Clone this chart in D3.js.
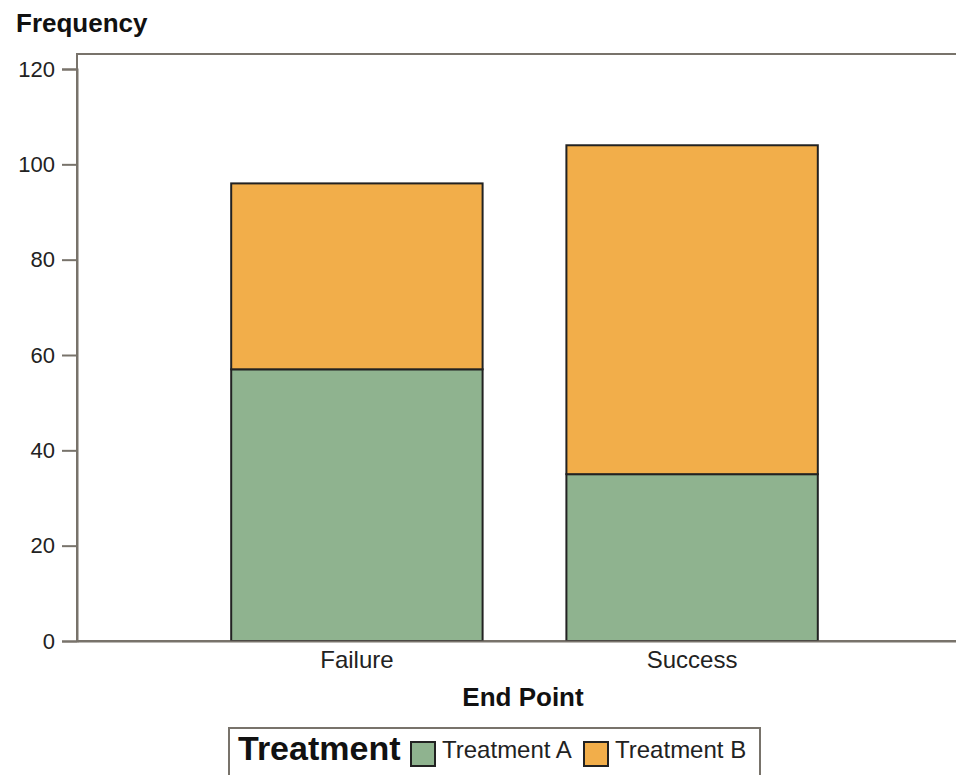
<!DOCTYPE html>
<html>
<head>
<meta charset="utf-8">
<script src="https://cdn.jsdelivr.net/npm/d3@7"></script>
<style>
  body { margin: 0; background: #fff; }
  svg { display: block; font-family: "Liberation Sans", Arial, sans-serif; }
</style>
</head>
<body>
<svg></svg>
<script>
var categories = ["Failure", "Success"];
var seriesNames = ["Treatment A", "Treatment B"];
var treatmentA = [57, 35];
var treatmentB = [39, 69];
var yTicks = [0, 20, 40, 60, 80, 100, 120];

var width = 956,
  height = 775;

var colors = ["#8fb38f", "#f2ae4a"];
var axisColor = "#78736b";

var margin = { left: 77, top: 54, right: 972, bottom: 641 };

var svg = d3.select("svg").attr("width", width).attr("height", height);

var x = d3
  .scaleBand()
  .domain(categories)
  .range([margin.left, margin.right])
  .paddingInner(0.25)
  .paddingOuter(0.46);

var y = d3.scaleLinear().domain([0, 120]).range([margin.bottom, 69]);

var rows = categories.map(function (c, i) {
  return { cat: c, "Treatment A": treatmentA[i], "Treatment B": treatmentB[i] };
});

var stack = d3.stack().keys(seriesNames)(rows);

// frame (top + left + bottom, right side runs off the picture)
svg
  .append("rect")
  .attr("x", margin.left)
  .attr("y", margin.top)
  .attr("width", margin.right - margin.left)
  .attr("height", margin.bottom - margin.top)
  .attr("fill", "none")
  .attr("stroke", axisColor)
  .attr("stroke-width", 2);

// bars
svg
  .selectAll(".layer")
  .data(stack)
  .join("g")
  .attr("class", "layer")
  .attr("fill", function (d, i) {
    return colors[i];
  })
  .selectAll("rect")
  .data(function (d) {
    return d;
  })
  .join("rect")
  .attr("x", function (d) {
    return x(d.data.cat);
  })
  .attr("width", x.bandwidth())
  .attr("y", function (d) {
    return y(d[1]);
  })
  .attr("height", function (d) {
    return y(d[0]) - y(d[1]);
  })
  .attr("stroke", "#222")
  .attr("stroke-width", 2);

// y axis
var yAxis = svg
  .append("g")
  .attr("transform", "translate(" + margin.left + ",0)")
  .call(d3.axisLeft(y).tickValues(yTicks).tickSize(15).tickPadding(7));

yAxis.select(".domain").attr("stroke", axisColor).attr("stroke-width", 2);
yAxis.selectAll(".tick line").attr("stroke", axisColor).attr("stroke-width", 2);
yAxis
  .selectAll(".tick text")
  .attr("fill", "#222")
  .attr("font-size", "22px")
  .attr("font-family", "Liberation Sans, Arial, sans-serif");

// x axis
var xAxis = svg
  .append("g")
  .attr("transform", "translate(0," + margin.bottom + ")")
  .call(d3.axisBottom(x).tickSize(0).tickPadding(10));

xAxis.select(".domain").attr("stroke", axisColor).attr("stroke-width", 2);
xAxis
  .selectAll(".tick text")
  .attr("fill", "#222")
  .attr("font-size", "24px")
  .attr("font-family", "Liberation Sans, Arial, sans-serif");

// titles
svg
  .append("text")
  .attr("x", 16)
  .attr("y", 32)
  .text("Frequency")
  .attr("font-size", "26px")
  .attr("font-weight", "bold")
  .attr("fill", "#111");

svg
  .append("text")
  .attr("x", 523)
  .attr("y", 706)
  .attr("text-anchor", "middle")
  .text("End Point")
  .attr("font-size", "26px")
  .attr("font-weight", "bold")
  .attr("fill", "#111");

// legend
var legend = svg.append("g");

legend
  .append("rect")
  .attr("x", 229)
  .attr("y", 728)
  .attr("width", 531)
  .attr("height", 60)
  .attr("fill", "#fff")
  .attr("stroke", axisColor)
  .attr("stroke-width", 2);

legend
  .append("text")
  .attr("x", 238)
  .attr("y", 760)
  .text("Treatment")
  .attr("font-size", "34px")
  .attr("font-weight", "bold")
  .attr("fill", "#111");

var legendX = [411, 584];
seriesNames.forEach(function (name, i) {
  legend
    .append("rect")
    .attr("x", legendX[i])
    .attr("y", 742)
    .attr("width", 24)
    .attr("height", 24)
    .attr("fill", colors[i])
    .attr("stroke", "#222")
    .attr("stroke-width", 2);
  legend
    .append("text")
    .attr("x", legendX[i] + 31)
    .attr("y", 758)
    .text(name)
    .attr("font-size", "24px")
    .attr("fill", "#222");
});
</script>
</body>
</html>
